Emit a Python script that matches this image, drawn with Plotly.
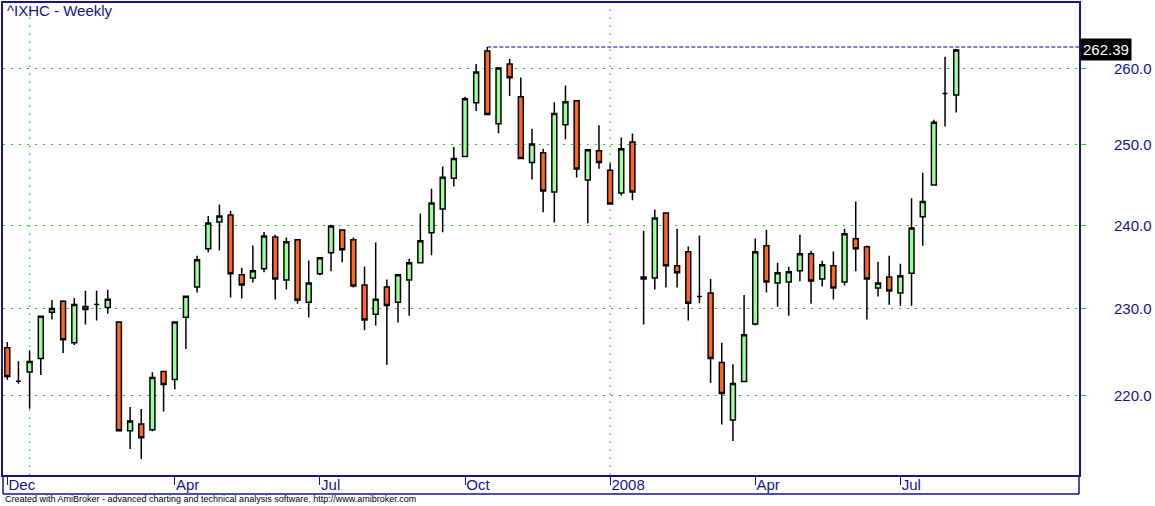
import math
import pandas as pd
import plotly.graph_objects as go

# ---------------- data (weekly bars, ^IXHC) ----------------
open_ = [225.45, 221.63, 222.68, 224.20, 229.55, 230.84, 226.02, 230.24, 230.48, 230.12,
         228.41, 216.09, 216.85, 216.20, 222.73, 221.82, 228.98, 232.53, 237.11, 240.37,
         241.23, 233.98, 233.61, 234.70, 238.55, 233.37, 238.19, 230.72, 234.10, 236.63,
         239.40, 238.19, 232.77, 229.32, 232.53, 230.72, 233.37, 235.42, 239.04, 241.98,
         245.80, 248.52, 255.45, 262.27, 252.73, 260.53, 256.23, 247.78, 249.01, 244.07,
         252.60, 255.71, 245.56, 249.26, 246.79, 243.95, 250.39, 233.73, 233.61, 241.48,
         235.06, 236.75, 231.40, 231.81, 223.75, 217.28, 221.59, 228.18, 237.47, 233.01,
         233.13, 234.46, 236.51, 233.49, 235.06, 233.13, 238.31, 237.35, 232.41, 233.73,
         231.81, 234.16, 241.02, 244.96, 256.66, 256.44]
high = [226.09, 223.90, 225.15, 229.09, 231.00, 230.96, 231.24, 232.08, 232.08, 232.20,
        228.41, 218.73, 218.51, 222.65, 222.73, 228.41, 231.45, 236.27, 241.11, 242.51,
        241.73, 234.82, 237.51, 239.16, 238.81, 238.47, 238.19, 235.70, 236.02, 240.04,
        239.40, 238.47, 234.98, 237.87, 233.41, 233.98, 235.90, 241.40, 244.48, 247.28,
        249.75, 256.23, 260.53, 262.80, 260.13, 261.19, 258.74, 252.08, 249.51, 255.49,
        257.70, 255.71, 249.38, 252.51, 247.69, 250.95, 251.47, 239.31, 241.89, 241.48,
        239.55, 237.39, 238.71, 233.49, 226.02, 223.56, 231.60, 238.35, 239.43, 235.42,
        234.94, 238.80, 236.87, 235.66, 236.78, 239.55, 242.88, 237.51, 235.54, 236.27,
        235.30, 243.31, 246.49, 253.23, 261.49, 262.52]
low = [221.80, 221.34, 218.54, 222.34, 228.70, 224.84, 225.75, 228.14, 228.59, 229.39,
       216.09, 214.09, 213.00, 216.04, 218.22, 220.72, 225.30, 231.88, 236.70, 236.90,
       231.28, 231.16, 233.08, 234.29, 231.04, 232.24, 230.55, 228.93, 233.93, 234.41,
       235.49, 232.48, 227.45, 228.02, 223.48, 228.36, 229.16, 235.42, 236.34, 239.11,
       244.77, 248.52, 254.36, 253.90, 251.51, 256.31, 248.27, 245.63, 241.56, 240.32,
       250.73, 245.88, 240.20, 246.99, 242.59, 243.65, 243.04, 228.14, 232.24, 232.48,
       232.48, 228.59, 230.60, 221.43, 216.80, 214.96, 221.59, 228.02, 231.88, 230.19,
       229.16, 233.20, 230.55, 232.60, 231.04, 232.72, 234.41, 228.70, 231.40, 230.43,
       230.31, 230.31, 237.48, 244.96, 252.36, 254.18]
close = [222.16, 221.63, 223.86, 229.09, 230.00, 226.36, 230.48, 229.89, 230.48, 231.08,
         216.09, 217.17, 215.33, 222.05, 221.25, 228.41, 231.45, 235.78, 240.25, 241.11,
         234.10, 232.77, 234.46, 238.67, 233.49, 237.95, 230.96, 233.01, 236.02, 239.88,
         236.99, 232.65, 228.64, 231.08, 230.36, 233.98, 235.42, 238.07, 242.72, 245.93,
         248.27, 255.97, 259.48, 253.90, 260.00, 258.70, 248.27, 250.13, 244.20, 254.03,
         255.58, 246.95, 249.38, 247.78, 242.59, 249.51, 244.07, 233.49, 240.86, 235.06,
         234.22, 230.60, 231.40, 224.20, 220.23, 221.36, 226.93, 236.75, 233.13, 234.22,
         234.34, 236.51, 233.25, 235.18, 232.41, 238.92, 237.11, 233.49, 233.01, 232.05,
         233.86, 239.63, 242.90, 252.92, 256.66, 262.39]

first_week = "2006-12-22"          # weekly bars, week ending Friday
tick_dates = ["2006-12-22", "2007-04-06", "2007-07-06", "2007-10-05",
              "2008-01-04", "2008-04-04", "2008-07-04"]
tick_labels = ["Dec", "Apr", "Jul", "Oct", "2008", "Apr", "Jul"]
year_grid_dates = ["2007-01-05", "2008-01-04"]
y_ticks = [220, 230, 240, 250, 260]
title_text = "^IXHC - Weekly"
footer_text = ("Created with AmiBroker - advanced charting and technical analysis "
               "software. http://www.amibroker.com")

# ---------------- styling ----------------
NAVY = "#14148c"
GRID = "#11dd11"
UP = "#99ff99"
DOWN = "#ff6622"
FONT = "Liberation Sans, Arial"
W, H = 1155, 506
ML, MR, MT, MB = 1, 76, 1, 31
PLOT_H = H - MT - MB

dates = pd.date_range(first_week, periods=len(close), freq="W-FRI")
week = pd.Timedelta(days=7)
x_start = dates[0] - 0.384 * week
x_end = dates[0] + 96.0 * week

fig = go.Figure()
fig.add_trace(go.Candlestick(
    x=dates, open=open_, high=high, low=low, close=close,
    increasing=dict(fillcolor=UP, line=dict(color="black", width=1.5)),
    decreasing=dict(fillcolor=DOWN, line=dict(color="black", width=1.5)),
    whiskerwidth=0, showlegend=False, hoverinfo="x+y",
))

# dashed line at the highest high, extending to the right edge
imax = max(range(len(high)), key=lambda i: high[i])
fig.add_trace(go.Scatter(
    x=[dates[imax], x_end], y=[high[imax], high[imax]], mode="lines",
    line=dict(color="#0000a8", width=1, dash="4px,2px"),
    showlegend=False, hoverinfo="skip",
))

shapes = []
for d in year_grid_dates:
    shapes.append(dict(type="line", xref="x", yref="paper", x0=d, x1=d, y0=0, y1=1,
                       line=dict(color=GRID, width=1.3, dash="1.5px,6.5px"), layer="below"))
# date strip frame under the plot
strip = -19 / PLOT_H
shapes.append(dict(type="line", xref="paper", yref="paper", x0=0, x1=1, y0=strip, y1=strip,
                   line=dict(color=NAVY, width=1.5)))
shapes.append(dict(type="line", xref="paper", yref="paper", x0=0, x1=0, y0=strip, y1=0,
                   line=dict(color=NAVY, width=1.5)))
shapes.append(dict(type="line", xref="paper", yref="paper", x0=1, x1=1, y0=strip, y1=0,
                   line=dict(color=NAVY, width=1.5)))

annotations = [
    dict(text=title_text, xref="paper", yref="paper", x=0, y=1, xanchor="left",
         yanchor="top", xshift=2, yshift=3, showarrow=False,
         font=dict(family=FONT, size=15, color=NAVY)),
    dict(text=footer_text, xref="paper", yref="paper", x=0, y=0, xanchor="left",
         yanchor="middle", xshift=0, yshift=-24, showarrow=False,
         font=dict(family="Liberation Sans Narrow, Arial Narrow, Liberation Sans", size=9,
                   color="black")),
    dict(text=f"{close[-1]:.2f}", xref="paper", yref="y", x=1, y=math.log10(close[-1]),
         xanchor="left", yanchor="middle", xshift=1, yshift=1, showarrow=False,
         bgcolor="black", borderpad=2,
         font=dict(family=FONT, size=15, color="white")),
]
# value-axis labels, right-aligned at the window edge
for v in y_ticks:
    annotations.append(dict(text=f"{v:.1f}", xref="paper", yref="y", x=1, y=math.log10(v),
                            xanchor="right", yanchor="middle", xshift=75, showarrow=False,
                            font=dict(family=FONT, size=15, color=NAVY)))

y_lo = 260 * math.exp(-(475 - 66.3) / 1969.5)
y_hi = 260 * math.exp((66.3 - 1) / 1969.5)

fig.update_layout(
    width=W, height=H, margin=dict(l=ML, r=MR, t=MT, b=MB, pad=0),
    paper_bgcolor="white", plot_bgcolor="white", showlegend=False,
    shapes=shapes, annotations=annotations, boxgap=0.37,
    xaxis=dict(type="date", range=[x_start, x_end], rangeslider=dict(visible=False),
               showgrid=False, zeroline=False, showline=True, linecolor=NAVY, linewidth=1.5,
               mirror=True, ticks="outside", ticklen=8, tickcolor=NAVY, tickwidth=1,
               tickvals=tick_dates, ticktext=tick_labels, ticklabelposition="outside right",
               ticklabelstandoff=-5,
               tickfont=dict(family=FONT, size=15, color=NAVY)),
    yaxis=dict(type="log", range=[math.log10(y_lo), math.log10(y_hi)], side="right",
               showgrid=True, gridcolor=GRID, gridwidth=1.3, griddash="1.5px,6.5px",
               zeroline=False, showline=True, linecolor=NAVY, linewidth=1.5, mirror=True,
               ticks="outside", ticklen=5, tickcolor=GRID, tickvals=y_ticks,
               showticklabels=False),
)

fig.write_html("out.html", config={"displayModeBar": False},
               post_script="document.body.style.margin='0';document.body.style.padding='0';")
